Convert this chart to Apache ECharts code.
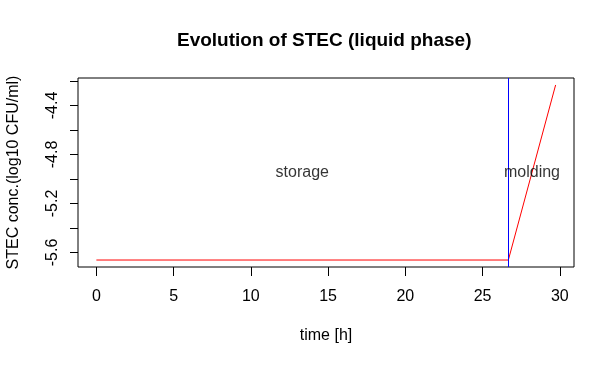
<!DOCTYPE html>
<html>
<head>
<meta charset="utf-8">
<script src="https://cdn.jsdelivr.net/npm/echarts@6/dist/echarts.min.js"></script>
<style>
html,body{margin:0;padding:0;background:#fff;}
#chart{width:615px;height:365px;}
</style>
</head>
<body>
<div id="chart"></div>
<script>
// Data
var timeH = [0, 26.67, 29.73];
var stecConc = [-5.662, -5.662, -4.233];
var phaseBoundary = 26.67;
var phaseNames = ['storage', 'molding'];
var phaseLabelX = [13.33, 28.2];
var phaseLabelY = -4.947;
var xTicks = [0, 5, 10, 15, 20, 25, 30];
var yTicks = [-5.6, -5.4, -5.2, -5.0, -4.8, -4.6, -4.4, -4.2];
var yLabels = [-5.6, -5.2, -4.8, -4.4];
var xRange = [-1.19, 30.92];
var yRange = [-5.719, -4.176];

var font = 'Liberation Sans, Arial, sans-serif';
var chart = echarts.init(document.getElementById('chart'), null, {renderer: 'canvas'});

var lineData = timeH.map(function (t, i) { return [t, stecConc[i]]; });
var textData = phaseNames.map(function (n, i) { return {value: [phaseLabelX[i], phaseLabelY], name: n}; });

chart.setOption({
  animation: false,
  backgroundColor: '#ffffff',
  title: {
    text: 'Evolution of STEC (liquid phase)',
    left: 177,
    top: 31,
    padding: 0,
    textStyle: {fontFamily: font, fontWeight: 'bold', fontSize: 19, color: '#000'}
  },
  grid: {
    left: 78, right: 41, top: 78, bottom: 98,
    containLabel: false,
    outerBoundsMode: 'none',
    show: true, borderColor: '#000', borderWidth: 1, backgroundColor: 'transparent'
  },
  xAxis: {
    type: 'value',
    min: xRange[0], max: xRange[1],
    name: 'time [h]',
    nameLocation: 'middle',
    nameGap: 61,
    nameTextStyle: {fontFamily: font, fontSize: 16, color: '#000'},
    axisLine: {show: false, onZero: false},
    splitLine: {show: false},
    axisTick: {show: true, inside: false, length: 9, customValues: xTicks, lineStyle: {color: '#000', width: 1}},
    axisLabel: {customValues: xTicks, margin: 22, fontFamily: font, fontSize: 16, color: '#000'}
  },
  yAxis: {
    type: 'value',
    position: 'left',
    min: yRange[0], max: yRange[1],
    name: 'STEC conc.(log10 CFU/ml)',
    nameLocation: 'middle',
    nameGap: 56,
    nameRotate: 90,
    nameTextStyle: {fontFamily: font, fontSize: 16, color: '#000'},
    axisLine: {show: false, onZero: false},
    splitLine: {show: false},
    axisTick: {show: true, inside: false, length: 8, customValues: yTicks, lineStyle: {color: '#000', width: 1}},
    axisLabel: {
      customValues: yLabels, rotate: 90, margin: 17,
      fontFamily: font, fontSize: 16, color: '#000',
      formatter: function (v) { return v.toFixed(1); }
    }
  },
  series: [
    {
      type: 'line',
      data: lineData,
      showSymbol: false,
      symbol: 'none',
      lineStyle: {color: '#ff0000', width: 1},
      z: 3,
      markLine: {
        silent: true,
        symbol: ['none', 'none'],
        label: {show: false},
        lineStyle: {color: '#0000ff', width: 1, type: 'solid'},
        data: [{xAxis: phaseBoundary}]
      }
    },
    {
      type: 'scatter',
      data: textData,
      symbolSize: 0,
      z: 5,
      label: {
        show: true, position: 'inside',
        formatter: function (p) { return p.name; },
        fontFamily: font, fontSize: 16, color: '#000'
      }
    }
  ]
});
</script>
</body>
</html>
